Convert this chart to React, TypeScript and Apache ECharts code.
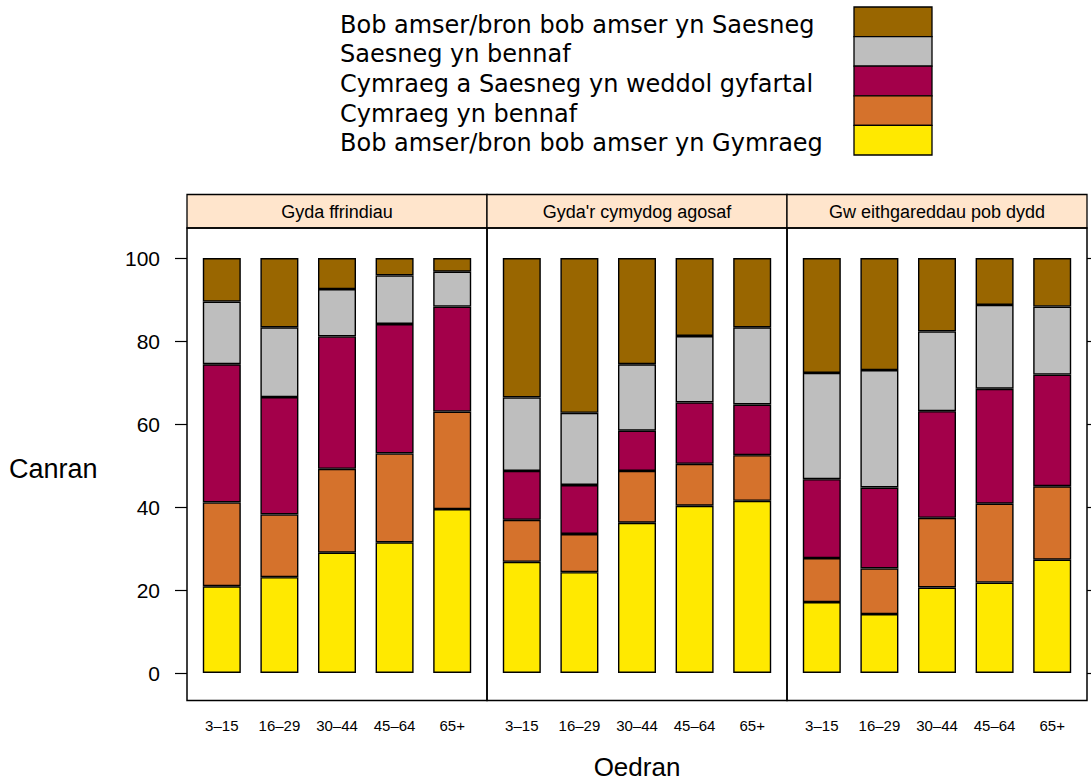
import React, { useEffect, useRef } from "react";
import * as echarts from "echarts";

const ageGroups = ["3–15", "16–29", "30–44", "45–64", "65+"];
const panelTitles = ["Gyda ffrindiau", "Gyda'r cymydog agosaf", "Gw eithgareddau pob dydd"];
// stacked bottom-up
const responses = [
  "Bob amser/bron bob amser yn Gymraeg",
  "Cymraeg yn bennaf",
  "Cymraeg a Saesneg yn weddol gyfartal",
  "Saesneg yn bennaf",
  "Bob amser/bron bob amser yn Saesneg",
];
const colors = ["#FFE900", "#D5722C", "#A3004A", "#BEBEBE", "#996600"];

// values per panel (friends, neighbour, everyday activities), per age group
const alwaysWelsh = [
  [20.9, 23.1, 29.0, 31.5, 39.5],
  [26.8, 24.3, 36.2, 40.3, 41.5],
  [17.1, 14.2, 20.6, 21.8, 27.3],
];
const mainlyWelsh = [
  [20.2, 15.1, 20.2, 21.4, 23.5],
  [10.1, 9.2, 12.5, 10.1, 11.0],
  [10.6, 11.0, 16.8, 19.0, 17.7],
];
const equalBoth = [
  [33.3, 28.3, 31.9, 31.2, 25.3],
  [11.8, 11.8, 9.7, 14.8, 12.2],
  [19.0, 19.5, 25.7, 27.7, 26.9],
];
const mainlyEnglish = [
  [15.1, 16.8, 11.4, 11.7, 8.4],
  [17.7, 17.4, 16.0, 16.0, 18.6],
  [25.6, 28.3, 19.2, 20.2, 16.4],
];
const alwaysEnglish = [
  [10.5, 16.7, 7.5, 4.2, 3.3],
  [33.6, 37.3, 25.6, 18.8, 16.7],
  [27.7, 27.0, 17.7, 11.3, 11.7],
];
const seriesValues = [alwaysWelsh, mainlyWelsh, equalBoth, mainlyEnglish, alwaysEnglish];

const yTicks = { min: 0, max: 100, interval: 20 };

const FONT = '"Liberation Sans", Arial, sans-serif';

export default function App() {
  const ref = useRef<HTMLDivElement>(null);
  useEffect(() => {
    if (!ref.current) return;
    const chart = echarts.init(ref.current, null, { renderer: "svg" });

    const panelLeft = 187;
    const panelW = 300;
    const stripTop = 194.5;
    const stripBottom = 228;
    const panelBottom = 700.5;
    const pad = 6;

    const grids: any[] = [];
    const xAxes: any[] = [];
    const yAxes: any[] = [];
    const series: any[] = [];
    const graphics: any[] = [];

    panelTitles.forEach((title, p) => {
      const pl = panelLeft + p * panelW;
      grids.push({ left: pl + pad, width: panelW - 2 * pad, top: 258, height: 415 });
      xAxes.push({
        type: "category",
        gridIndex: p,
        data: ageGroups,
        axisLine: { show: false },
        axisTick: { show: false },
        axisLabel: { interval: 0, fontSize: 15, fontFamily: FONT, color: "#000", margin: 45 },
      });
      const isFirst = p === 0;
      const isLast = p === panelTitles.length - 1;
      yAxes.push({
        type: "value",
        gridIndex: p,
        min: yTicks.min,
        max: yTicks.max,
        interval: yTicks.interval,
        position: isLast ? "right" : "left",
        offset: pad,
        splitLine: { show: false },
        axisLine: { show: false },
        axisTick: {
          show: isFirst || isLast,
          length: 12,
          inside: false,
          lineStyle: { color: "#000", width: 1.2 },
        },
        axisLabel: {
          show: isFirst,
          fontSize: 21,
          fontFamily: FONT,
          color: "#000",
          margin: 27,
        },
      });
      seriesValues.forEach((vals, r) => {
        series.push({
          type: "bar",
          name: responses[r],
          xAxisIndex: p,
          yAxisIndex: p,
          stack: "panel" + p,
          barWidth: 38,
          data: vals[p],
          itemStyle: { color: colors[r], borderColor: "#000", borderWidth: 1.4 },
          emphasis: { disabled: true },
        });
      });
      // strip
      graphics.push({
        type: "rect",
        z: 10,
        shape: { x: pl, y: stripTop, width: panelW, height: stripBottom - stripTop },
        style: { fill: "#FFE5CC", stroke: "#000", lineWidth: 1.3 },
      });
      graphics.push({
        type: "text",
        z: 11,
        x: pl + panelW / 2,
        y: (stripTop + stripBottom) / 2 + 1,
        style: {
          text: title,
          fontSize: 18,
          fontFamily: FONT,
          fill: "#000",
          align: "center",
          verticalAlign: "middle",
        },
      });
      // panel body
      graphics.push({
        type: "rect",
        z: 10,
        shape: { x: pl, y: stripBottom, width: panelW, height: panelBottom - stripBottom },
        style: { fill: "none", stroke: "#000", lineWidth: 1.5 },
      });
    });

    // legend (top row = top of stack)
    const legendTop = 7;
    const rowH = 29.6;
    const order = [4, 3, 2, 1, 0];
    order.forEach((r, i) => {
      graphics.push({
        type: "rect",
        z: 10,
        shape: { x: 854, y: legendTop + i * rowH, width: 78, height: rowH },
        style: { fill: colors[r], stroke: "#000", lineWidth: 1.3 },
      });
      graphics.push({
        type: "text",
        z: 10,
        x: 340,
        y: legendTop + i * rowH + rowH / 2 + 3,
        style: {
          text: responses[r],
          fontSize: 24,
          fontFamily: '"DejaVu Sans", sans-serif',
          fill: "#000",
          align: "left",
          verticalAlign: "middle",
        },
      });
    });

    graphics.push({
      type: "text",
      x: 9,
      y: 469,
      style: { text: "Canran", fontSize: 27, fontFamily: FONT, fill: "#000", align: "left", verticalAlign: "middle" },
    });
    graphics.push({
      type: "text",
      x: 637,
      y: 767,
      style: { text: "Oedran", fontSize: 26, fontFamily: FONT, fill: "#000", align: "center", verticalAlign: "middle" },
    });

    chart.setOption({
      animation: false,
      backgroundColor: "#fff",
      grid: grids,
      xAxis: xAxes,
      yAxis: yAxes,
      series,
      graphic: graphics,
    });
    return () => chart.dispose();
  }, []);
  return (
    <div
      ref={ref}
      style={{ position: "fixed", left: 0, top: 0, width: 1091, height: 783, background: "#fff" }}
    />
  );
}
